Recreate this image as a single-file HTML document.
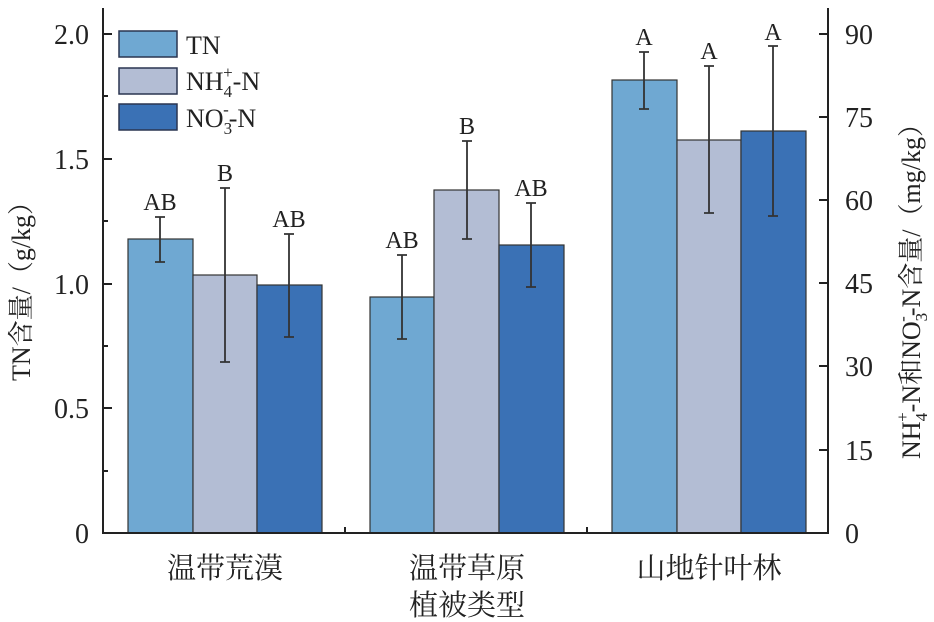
<!DOCTYPE html><html><head><meta charset="utf-8"><style>body{margin:0;background:#fff}svg{display:block}text{font-family:"Liberation Serif","Noto Serif CJK SC",serif;fill:#222}</style></head><body>
<svg width="934" height="622" viewBox="0 0 934 622">
<g stroke="#333" stroke-width="1.2">
<rect x="128" y="239" width="65" height="294" fill="#6fa8d2"/>
<rect x="193" y="275" width="64" height="258" fill="#b3bdd4"/>
<rect x="257" y="285" width="65" height="248" fill="#3a71b5"/>
<rect x="370" y="297" width="64" height="236" fill="#6fa8d2"/>
<rect x="434" y="190" width="65" height="343" fill="#b3bdd4"/>
<rect x="499" y="245" width="65" height="288" fill="#3a71b5"/>
<rect x="612" y="80" width="65" height="453" fill="#6fa8d2"/>
<rect x="677" y="140" width="64" height="393" fill="#b3bdd4"/>
<rect x="741" y="131" width="65" height="402" fill="#3a71b5"/>
</g>
<g stroke="#333" stroke-width="1.8">
<path d="M160 217V262M155 217H165M155 262H165"/>
<path d="M225 188V362M220 188H230M220 362H230"/>
<path d="M289 234V337M284 234H294M284 337H294"/>
<path d="M402 255V339M397 255H407M397 339H407"/>
<path d="M467 141V239M462 141H472M462 239H472"/>
<path d="M531 203V287M526 203H536M526 287H536"/>
<path d="M644 52V109M639 52H649M639 109H649"/>
<path d="M709 66V213M704 66H714M704 213H714"/>
<path d="M773 46V216M768 46H778M768 216H778"/>
</g>
<g font-size="24" text-anchor="middle">
<text x="160" y="210">AB</text><text x="225" y="181">B</text><text x="289" y="227">AB</text>
<text x="402" y="248">AB</text><text x="467" y="134">B</text><text x="531" y="196">AB</text>
<text x="644" y="45">A</text><text x="709" y="59">A</text><text x="773" y="40">A</text>
</g>
<g stroke="#222" stroke-width="2" fill="none">
<path d="M103 8V533H828V8"/>
<path d="M103 34h9M103 159h9M103 284h9M103 408h9M103 96h5M103 221h5M103 346h5M103 471h5"/>
<path d="M828 34h-9M828 117h-9M828 200h-9M828 283h-9M828 366h-9M828 450h-9"/>
<path d="M345 533v-6M587 533v-6"/>
</g>
<g font-size="28" text-anchor="end">
<text x="89" y="44">2.0</text><text x="89" y="169">1.5</text><text x="89" y="294">1.0</text><text x="89" y="418">0.5</text><text x="89" y="543">0</text>
</g>
<g font-size="28">
<text x="845" y="44">90</text><text x="845" y="127">75</text><text x="845" y="210">60</text><text x="845" y="293">45</text><text x="845" y="376">30</text><text x="845" y="460">15</text><text x="845" y="543">0</text>
</g>
<text transform="translate(30,285) rotate(-90)" font-size="26" text-anchor="middle">TN含量/（g/kg）</text>
<text transform="translate(920,285) rotate(-90)" font-size="26" text-anchor="middle">NH<tspan font-size="17" dy="7">4</tspan><tspan font-size="17" dx="-9" dy="-19">+</tspan><tspan dy="12">-N和NO</tspan><tspan font-size="17" dy="7">3</tspan><tspan font-size="17" dx="-9" dy="-19">-</tspan><tspan dy="12">-N含量/（mg/kg）</tspan></text>
<g font-size="29" text-anchor="middle">
<text x="225" y="578">温带荒漠</text><text x="467" y="578">温带草原</text><text x="709" y="578">山地针叶林</text><text x="467" y="615">植被类型</text>
</g>
<g stroke="#2a3550" stroke-width="1.5">
<rect x="119" y="31" width="58" height="26" fill="#6fa8d2"/>
<rect x="119" y="68" width="58" height="26" fill="#b3bdd4"/>
<rect x="119" y="104" width="58" height="26" fill="#3a71b5"/>
</g>
<g font-size="26">
<text x="186" y="54">TN</text>
<text x="186" y="90">NH<tspan font-size="17" dy="7">4</tspan><tspan font-size="17" dx="-9" dy="-19">+</tspan><tspan dy="12">-N</tspan></text>
<text x="186" y="127">NO<tspan font-size="17" dy="7">3</tspan><tspan font-size="17" dx="-9" dy="-19">-</tspan><tspan dy="12">-N</tspan></text>
</g>
</svg></body></html>
